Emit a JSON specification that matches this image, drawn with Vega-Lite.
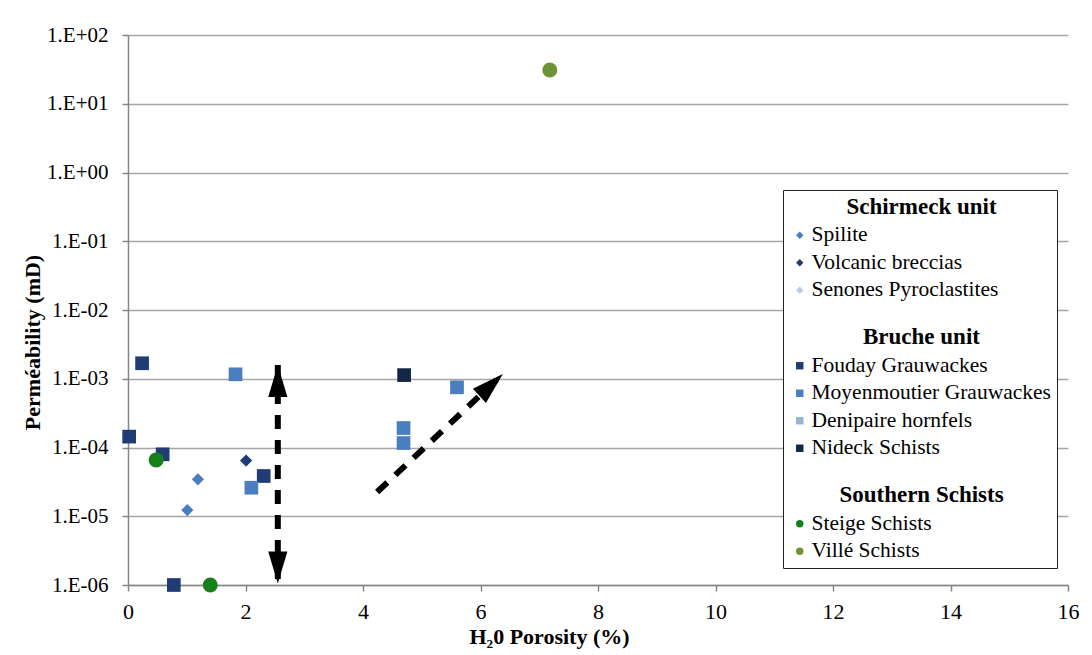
{
  "$schema": "https://vega.github.io/schema/vega-lite/v6.json",
  "width": 940,
  "height": 550,
  "autosize": {"type": "none"},
  "padding": {"left": 128, "top": 35, "right": 24, "bottom": 70},
  "background": "white",
  "config": {
    "font": "Liberation Serif",
    "view": {"stroke": null},
    "axis": {"labelFont": "Liberation Serif", "titleFont": "Liberation Serif"},
    "legend": {"labelFont": "Liberation Serif", "titleFont": "Liberation Serif"}
  },
  "datasets": {
    "samples": [
      {"unit": "Schirmeck", "sample": "Spilite", "porosity": 1.19, "permeability": 3.44e-5},
      {"unit": "Schirmeck", "sample": "Spilite", "porosity": 1.01, "permeability": 1.23e-5},
      {"unit": "Schirmeck", "sample": "Volcanic breccias", "porosity": 2.01, "permeability": 6.45e-5},
      {"unit": "Bruche", "sample": "Fouday Grauwackes", "porosity": 0.24, "permeability": 1.68e-3},
      {"unit": "Bruche", "sample": "Fouday Grauwackes", "porosity": 0.02, "permeability": 1.44e-4},
      {"unit": "Bruche", "sample": "Fouday Grauwackes", "porosity": 0.59, "permeability": 7.96e-5},
      {"unit": "Bruche", "sample": "Fouday Grauwackes", "porosity": 2.31, "permeability": 3.85e-5},
      {"unit": "Bruche", "sample": "Fouday Grauwackes", "porosity": 0.78, "permeability": 1e-6},
      {"unit": "Bruche", "sample": "Moyenmoutier Grauwackes", "porosity": 1.83, "permeability": 1.16e-3},
      {"unit": "Bruche", "sample": "Moyenmoutier Grauwackes", "porosity": 2.1, "permeability": 2.6e-5},
      {"unit": "Bruche", "sample": "Moyenmoutier Grauwackes", "porosity": 5.6, "permeability": 7.5e-4},
      {"unit": "Bruche", "sample": "Moyenmoutier Grauwackes", "porosity": 4.69, "permeability": 1.92e-4},
      {"unit": "Bruche", "sample": "Moyenmoutier Grauwackes", "porosity": 4.69, "permeability": 1.16e-4},
      {"unit": "Bruche", "sample": "Nideck Schists", "porosity": 4.7, "permeability": 1.13e-3},
      {"unit": "Southern", "sample": "Steige Schists", "porosity": 0.48, "permeability": 6.6e-5},
      {"unit": "Southern", "sample": "Steige Schists", "porosity": 1.4, "permeability": 1e-6},
      {"unit": "Southern", "sample": "Villé Schists", "porosity": 7.18, "permeability": 31}
    ],
    "arrows": [
      {"porosity": 2.55, "permeability": 1.58e-3, "porosity2": 2.55, "permeability2": 1.05e-6},
      {"porosity": 4.24, "permeability": 2.25e-5, "porosity2": 6.38, "permeability2": 1.17e-3}
    ],
    "heads": [
      {"dir": "up", "porosity": 2.55, "permeability": 1.58e-3},
      {"dir": "down", "porosity": 2.55, "permeability": 1.05e-6},
      {"dir": "diag", "porosity": 6.38, "permeability": 1.17e-3}
    ]
  },
  "encoding": {
    "x": {
      "field": "porosity",
      "type": "quantitative",
      "scale": {"domain": [0, 16], "nice": false, "zero": false},
      "axis": {
        "title": "H₂0 Porosity  (%)",
        "values": [0, 2, 4, 6, 8, 10, 12, 14, 16],
        "grid": false,
        "domainColor": "#868686",
        "domainWidth": 1.5,
        "tickColor": "#868686",
        "tickWidth": 1.5,
        "tickSize": 6,
        "labelFontSize": 22,
        "labelColor": "black",
        "labelPadding": 10,
        "labelFlush": false,
        "titleFontSize": 22,
        "titleFontWeight": "bold",
        "titleColor": "black",
        "titlePadding": 4,
        "titleX": 421
      }
    },
    "y": {
      "field": "permeability",
      "type": "quantitative",
      "scale": {"type": "log", "domain": [1e-6, 100], "nice": false},
      "axis": {
        "title": "Perméability (mD)",
        "values": [1e-6, 1e-5, 1e-4, 1e-3, 1e-2, 1e-1, 1, 10, 100],
        "grid": true,
        "gridColor": "#a6a6a6",
        "gridWidth": 1.5,
        "domainColor": "#868686",
        "domainWidth": 1.5,
        "tickColor": "#868686",
        "tickWidth": 1.5,
        "tickSize": 6,
        "labelFontSize": 21,
        "labelColor": "black",
        "labelPadding": 14,
        "labelExpr": "'1.E' + (round(log(datum.value)/LN10) < 0 ? '-' : '+') + (abs(round(log(datum.value)/LN10)) < 10 ? '0' : '') + abs(round(log(datum.value)/LN10))",
        "titleFontSize": 22,
        "titleFontWeight": "bold",
        "titleColor": "black",
        "titlePadding": 2,
        "titleY": 307
      }
    }
  },
  "layer": [
    {
      "data": {"name": "arrows"},
      "mark": {"type": "rule", "color": "black", "strokeWidth": 6, "strokeDash": [14, 11], "strokeCap": "butt"},
      "encoding": {
        "x2": {"field": "porosity2"},
        "y2": {"field": "permeability2"}
      }
    },
    {
      "data": {"name": "heads"},
      "transform": [{"filter": "datum.dir === 'up'"}],
      "mark": {"type": "point", "filled": true, "color": "black", "opacity": 1, "size": 1024, "shape": "M0,0L0.6,2L-0.6,2Z", "angle": 0}
    },
    {
      "data": {"name": "heads"},
      "transform": [{"filter": "datum.dir === 'down'"}],
      "mark": {"type": "point", "filled": true, "color": "black", "opacity": 1, "size": 1024, "shape": "M0,0L0.6,2L-0.6,2Z", "angle": 180}
    },
    {
      "data": {"name": "heads"},
      "transform": [{"filter": "datum.dir === 'diag'"}],
      "mark": {"type": "point", "filled": true, "color": "black", "opacity": 1, "size": 1024, "shape": "M0,0L0.6,2L-0.6,2Z", "angle": 47}
    },
    {
      "data": {"name": "samples"},
      "mark": {"type": "point", "filled": true, "opacity": 1, "strokeWidth": 0},
      "encoding": {
        "size": {
          "field": "unit",
          "type": "ordinal",
          "scale": {"domain": ["Schirmeck", "Bruche", "Southern"], "range": [150, 225, 200]},
          "legend": null
        },
        "color": {
          "field": "sample",
          "type": "nominal",
          "scale": {
            "domain": ["Schirmeck unit", "Spilite", "Volcanic breccias", "Senones Pyroclastites", " ", "Bruche unit", "Fouday Grauwackes", "Moyenmoutier Grauwackes", "Denipaire hornfels", "Nideck Schists", "  ", "Southern Schists", "Steige Schists", "Villé Schists"],
            "range": ["#ffffff", "#4a7ebf", "#1f3c74", "#b8cce4", "#ffffff", "#ffffff", "#1f3c74", "#4a7ebf", "#95b3d7", "#142646", "#ffffff", "#ffffff", "#16801a", "#6e9236"]
          },
          "legend": {
            "orient": "none",
            "legendX": 655,
            "legendY": 155,
            "title": null,
            "fillColor": "white",
            "strokeColor": "#222222",
            "padding": 6,
            "labelFontSize": {"expr": "datum.label === ' ' ? 1 : datum.label === '  ' ? 8 : indexof(['Schirmeck unit','Bruche unit','Southern Schists'], datum.label) >= 0 ? 23 : 21.5"},
            "labelFontWeight": {"expr": "indexof(['Schirmeck unit','Bruche unit','Southern Schists'], datum.label) >= 0 ? 'bold' : 'normal'"},
            "labelAlign": {"expr": "indexof(['Schirmeck unit','Bruche unit','Southern Schists'], datum.label) >= 0 ? 'center' : 'left'"},
            "labelOffset": {"expr": "indexof(['Schirmeck unit','Bruche unit','Southern Schists'], datum.label) >= 0 ? 111 : 1"},
            "labelColor": "black",
            "labelLimit": 400,
            "symbolSize": 55,
            "symbolStrokeWidth": 0,
            "rowPadding": 4.5
          }
        },
        "shape": {
          "field": "sample",
          "type": "nominal",
          "scale": {
            "domain": ["Schirmeck unit", "Spilite", "Volcanic breccias", "Senones Pyroclastites", " ", "Bruche unit", "Fouday Grauwackes", "Moyenmoutier Grauwackes", "Denipaire hornfels", "Nideck Schists", "  ", "Southern Schists", "Steige Schists", "Villé Schists"],
            "range": ["circle", "diamond", "diamond", "diamond", "circle", "circle", "square", "square", "square", "square", "circle", "circle", "circle", "circle"]
          }
        }
      }
    }
  ]
}
